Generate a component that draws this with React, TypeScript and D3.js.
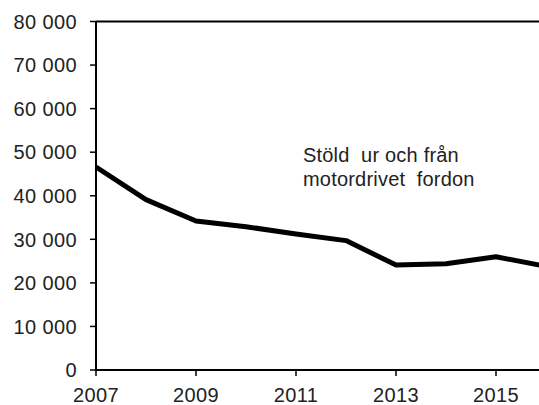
import React from "react";
import * as d3 from "d3";

const years = [2007, 2008, 2009, 2010, 2011, 2012, 2013, 2014, 2015, 2016];
const values = [46600, 39100, 34200, 32900, 31200, 29700, 24100, 24400, 26000, 23800];
const yTicks = [0, 10000, 20000, 30000, 40000, 50000, 60000, 70000, 80000];
const xTicks = [2007, 2009, 2011, 2013, 2015];
const labelLines = ["Stöld  ur och från", "motordrivet  fordon"];

export default function App() {
  const W = 539, H = 405;
  const x = d3.scaleLinear().domain([2007, 2016]).range([96, 546]);
  const y = d3.scaleLinear().domain([0, 80000]).range([370, 21.5]);
  const line = d3.line<number>().x((_, i) => x(years[i])).y((d) => y(d));
  const fmt = (v: number) => d3.format(",")(v).replace(/,/g, " ");
  const font = "'Liberation Sans', Arial, sans-serif";
  const fs = 20;
  const ls = 0.4;
  return (
    <svg width={W} height={H} style={{ position: "absolute", left: 0, top: 0, background: "#fff" }}>
      <rect x={0} y={0} width={W} height={H} fill="#fff" />
      <line x1={x(2007)} x2={x(2016)} y1={y(80000)} y2={y(80000)} stroke="#000" strokeWidth={2} />
      <line x1={x(2007)} x2={x(2007)} y1={y(80000)} y2={y(0)} stroke="#000" strokeWidth={2} />
      {yTicks.map((t) => (
        <g key={t}>
          <line x1={90} x2={x(2007)} y1={y(t)} y2={y(t)} stroke="#000" strokeWidth={1.5} />
          <text x={77} y={y(t)} dy="0.36em" textAnchor="end" fontFamily={font} fontSize={fs} letterSpacing={ls} fill="#222">
            {fmt(t)}
          </text>
        </g>
      ))}
      <line x1={x(2007) - 1} x2={x(2016)} y1={y(0)} y2={y(0)} stroke="#000" strokeWidth={2} />
      {xTicks.map((t) => (
        <g key={t}>
          <line x1={x(t)} x2={x(t)} y1={y(0)} y2={y(0) + 6} stroke="#000" strokeWidth={1.5} />
          <text x={x(t)} y={402} textAnchor="middle" fontFamily={font} fontSize={fs} letterSpacing={ls} fill="#222">
            {t}
          </text>
        </g>
      ))}
      <path d={line(values) || ""} fill="none" stroke="#000" strokeWidth={5} strokeLinejoin="round" />
      {labelLines.map((l, i) => (
        <text key={i} x={303} y={162 + i * 23.5} fontFamily={font} fontSize={fs} letterSpacing={0.2} fill="#222" style={{ whiteSpace: "pre" }}>
          {l}
        </text>
      ))}
    </svg>
  );
}
